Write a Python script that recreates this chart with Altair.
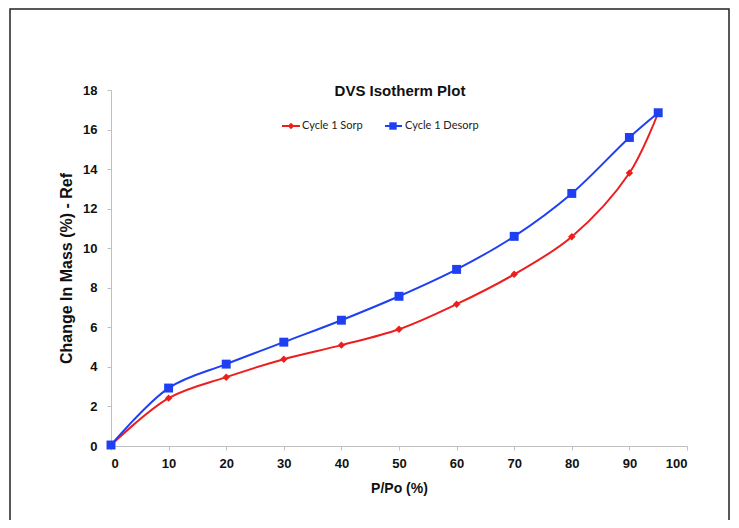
import altair as alt
import pandas as pd

pp = [0, 10, 20, 30, 40, 50, 60, 70, 80, 90, 95]
sorp = [0.05, 2.42, 3.48, 4.39, 5.1, 5.9, 7.17, 8.68, 10.58, 13.8, 16.85]
desorp = [0.05, 2.93, 4.14, 5.25, 6.36, 7.57, 8.93, 10.6, 12.77, 15.6, 16.85]
series = ["Cycle 1 Sorp", "Cycle 1 Desorp"]
x_ticks = [0, 10, 20, 30, 40, 50, 60, 70, 80, 90, 100]
y_ticks = [0, 2, 4, 6, 8, 10, 12, 14, 16, 18]
red = "#ec1f1f"
blue = "#1f3ff2"

df_s = pd.DataFrame({"pp": pp, "val": sorp, "series": series[0]})
df_d = pd.DataFrame({"pp": pp, "val": desorp, "series": series[1]})

xenc = alt.X("pp:Q", scale=alt.Scale(domain=[0, 100], nice=False),
             axis=alt.Axis(title="P/Po (%)", values=x_ticks,
                           labelPadding=7, titlePadding=11, labelOverlap=False))
yenc = alt.Y("val:Q", scale=alt.Scale(domain=[0, 18], nice=False),
             axis=alt.Axis(title="Change In Mass (%) - Ref", values=y_ticks,
                           labelPadding=10, titlePadding=8, labelOverlap=False))

line_s = alt.Chart(df_s).mark_line(color=red, strokeWidth=2, interpolate="catmull-rom").encode(x=xenc, y=yenc)
line_d = alt.Chart(df_d).mark_line(color=blue, strokeWidth=2, interpolate="catmull-rom").encode(x=xenc, y=yenc)
pt_s = alt.Chart(df_s).mark_point(shape="diamond", filled=True, color=red, size=55, opacity=1).encode(x=xenc, y=yenc)
pt_d = alt.Chart(df_d).mark_point(shape="square", filled=True, color=blue, size=80, opacity=1).encode(x=xenc, y=yenc)

title = alt.Chart(pd.DataFrame({"t": ["DVS Isotherm Plot"]})).mark_text(
    fontSize=15, fontWeight="bold", font="Liberation Sans", color="#111", align="center", baseline="middle"
).encode(text="t:N", x=alt.value(289), y=alt.value(1))

leg = pd.DataFrame({"series": series})
leg_s = leg.iloc[[0]]
leg_d = leg.iloc[[1]]
legend_layers = [
    alt.Chart(leg_s).mark_rule(color=red, strokeWidth=2).encode(x=alt.value(171), x2=alt.value(189), y=alt.value(36)),
    alt.Chart(leg_s).mark_point(shape="diamond", filled=True, color=red, size=45, opacity=1).encode(x=alt.value(180), y=alt.value(36)),
    alt.Chart(leg_s).mark_text(align="left", baseline="middle", fontSize=11, font="Lato", color="#222").encode(
        text="series:N", x=alt.value(191), y=alt.value(36)),
    alt.Chart(leg_d).mark_rule(color=blue, strokeWidth=2).encode(x=alt.value(274), x2=alt.value(291), y=alt.value(36)),
    alt.Chart(leg_d).mark_point(shape="square", filled=True, color=blue, size=55, opacity=1).encode(x=alt.value(282), y=alt.value(36)),
    alt.Chart(leg_d).mark_text(align="left", baseline="middle", fontSize=11, font="Lato", color="#222").encode(
        text="series:N", x=alt.value(294), y=alt.value(36)),
]

frame = alt.Chart(pd.DataFrame({"a": [1]})).mark_rect(fill="transparent", stroke="#222", strokeWidth=1.5).encode(
    x=alt.value(-101), x2=alt.value(618), y=alt.value(-81), y2=alt.value(470))

chart = alt.layer(frame, line_s, line_d, pt_s, pt_d, title, *legend_layers).properties(
    width=576, height=356,
    autosize=alt.AutoSizeParams(type="none"),
    padding={"left": 103, "top": 82, "right": 44, "bottom": 74},
    background="white",
).configure_view(strokeWidth=0).configure_axis(
    grid=False, domainColor="#c0c0c0", tickColor="#c0c0c0", tickSize=4,
    labelFont="Liberation Sans", labelFontSize=13, labelFontWeight="bold", labelColor="#111",
    titleFont="Liberation Sans", titleFontWeight="bold", titleColor="#111",
).configure_axisX(titleFontSize=14).configure_axisY(titleFontSize=16)

chart.save("out.html", embed_options={"renderer": "svg", "actions": False})
